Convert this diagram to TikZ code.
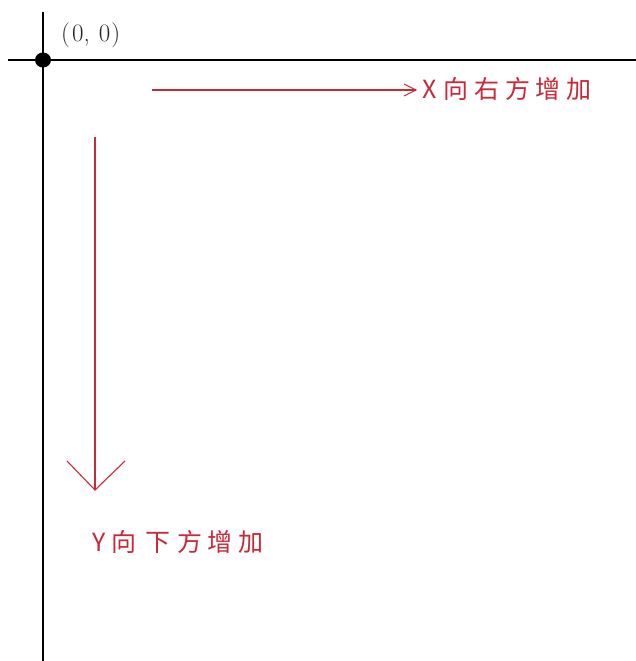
\documentclass[tikz,border=0pt]{standalone}
\usepackage{fontspec}
\usetikzlibrary{calc}
\newfontfamily\cjk{Noto Sans CJK SC}
\definecolor{lblred}{RGB}{200,40,55}
\begin{document}
\begin{tikzpicture}[x=1pt,y=-1pt,
  axis/.style={line width=1.6pt,black},
  redline/.style={lblred,line width=1.1pt},
  redtext/.style={lblred,font=\cjk\fontsize{25}{25}\selectfont,inner sep=0pt,anchor=west}]
\useasboundingbox (0,0) rectangle (636,661);
\coordinate (hl) at (8,60);
\coordinate (hr) at (636,60);
\coordinate (vt) at (43,12);
\coordinate (vb) at (43,661);
\draw[axis] (hl) -- (hr);
\draw[axis] (vt) -- (vb);
\fill (43,60) ellipse (8 and 7.5);
\node[anchor=west,inner sep=0pt,font=\fontsize{25}{25}\selectfont,text=black!85] (origin) at (61,35) {(\hspace{2pt}0,\hspace{9pt}0\hspace{1pt})};
% X arrow
\coordinate (xs) at (152,90);
\coordinate (xt) at (416,90);
\node[redtext] (xlab) at (422,89) {X\hspace{7pt}向\hspace{6pt}右\hspace{6pt}方\hspace{5pt}增\hspace{6pt}加};
\draw[redline] (xs) -- (xt);
\draw[redline] ($(xt)+(-12,-6)$) -- (xt) -- ($(xt)+(-12,6)$);
% Y arrow
\coordinate (ys) at (95,137);
\coordinate (ye) at (95,490);
\draw[redline] (ys) -- (ye);
\draw[redline] (67,461) -- (ye) -- (125,461);
\node[redtext] (ylab) at (92,542) {Y\hspace{6pt}向\hspace{9pt}下\hspace{7pt}方\hspace{5pt}增\hspace{6pt}加};
\end{tikzpicture}
\end{document}
